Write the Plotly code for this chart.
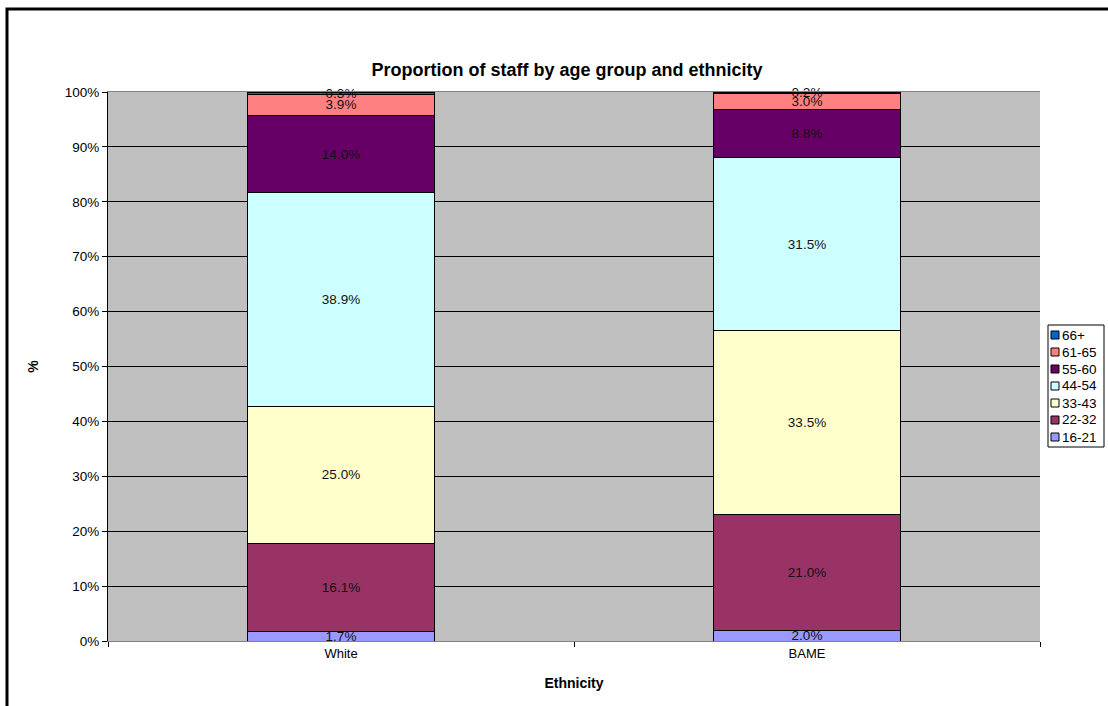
import plotly.graph_objects as go

# Staff proportions by ethnicity and age group (%)
ethnicity = ["White", "BAME"]
age_groups = ["16-21", "22-32", "33-43", "44-54", "55-60", "61-65", "66+"]
white_pct = [1.7, 16.1, 25.0, 38.9, 14.0, 3.9, 0.3]
bame_pct = [2.0, 21.0, 33.5, 31.5, 8.8, 3.0, 0.2]
age_colors = ["#9999FF", "#993366", "#FFFFCC", "#CCFFFF", "#660066", "#FF8080", "#0066CC"]
y_ticks = list(range(0, 101, 10))

FONT = "Liberation Sans, Arial, sans-serif"
W, H = 1108, 706
ML, MR, MT, MB = 108, 68, 92, 65
PW, PH = W - ML - MR, H - MT - MB


def px(x):
    """Horizontal pixel position -> paper coordinate."""
    return (x - ML) / PW


def py(y):
    """Vertical pixel position (from top) -> paper coordinate."""
    return (H - MB - y) / PH


fig = go.Figure()
for i, grp in enumerate(age_groups):
    vals = [white_pct[i], bame_pct[i]]
    fig.add_trace(go.Bar(
        x=ethnicity,
        y=vals,
        name=grp,
        marker=dict(color=age_colors[i], line=dict(color="black", width=1)),
        text=[f"{v:.1f}%" for v in vals],
        textposition="inside",
        insidetextanchor="middle",
        textangle=0,
        constraintext="none",
        cliponaxis=False,
        textfont=dict(family=FONT, size=13.5, color="#111111"),
        showlegend=False,
    ))

shapes = [
    # outer chart frame
    dict(type="rect", xref="paper", yref="paper",
         x0=px(7), x1=px(1130), y0=py(730), y1=py(9),
         line=dict(color="black", width=3), fillcolor="rgba(0,0,0,0)"),
    # legend box
    dict(type="rect", xref="paper", yref="paper",
         x0=px(1048), x1=px(1104), y0=py(447), y1=py(325),
         line=dict(color="black", width=1), fillcolor="white"),
]
annotations = []
# legend entries, top entry is the oldest age group
for k, idx in enumerate(reversed(range(len(age_groups)))):
    cy = 335 + 17 * k
    shapes.append(dict(type="rect", xref="paper", yref="paper",
                       x0=px(1051), x1=px(1059), y0=py(cy + 4), y1=py(cy - 4),
                       line=dict(color="black", width=1), fillcolor=age_colors[idx]))
    annotations.append(dict(xref="paper", yref="paper", x=px(1060), y=py(cy),
                            xanchor="left", yanchor="middle", showarrow=False,
                            text=age_groups[idx],
                            font=dict(family=FONT, size=13.5, color="black")))

fig.update_layout(
    width=W, height=H,
    margin=dict(l=ML, r=MR, t=MT, b=MB, autoexpand=False),
    barmode="stack",
    bargap=0.6,
    paper_bgcolor="white",
    plot_bgcolor="#C0C0C0",
    font=dict(family=FONT, size=13.5, color="black"),
    uniformtext=dict(minsize=13.5, mode="show"),
    showlegend=False,
    title=dict(text="<b>Proportion of staff by age group and ethnicity</b>",
               x=567 / W, xref="container", xanchor="center",
               y=1 - 70 / H, yref="container", yanchor="middle",
               font=dict(family=FONT, size=18, color="black")),
    shapes=shapes,
    annotations=annotations,
    xaxis=dict(
        title=dict(text="<b>Ethnicity</b>", font=dict(family=FONT, size=14), standoff=18),
        tickson="boundaries", ticks="outside", ticklen=5, tickcolor="black",
        showline=True, linecolor="#808080", linewidth=1, mirror=True,
        tickfont=dict(family=FONT, size=13),
    ),
    yaxis=dict(
        title=dict(text="<b>%</b>", font=dict(family=FONT, size=14), standoff=22),
        range=[0, 100], tickvals=y_ticks, ticktext=[f"{t}%" for t in y_ticks],
        ticks="outside", ticklen=5, tickcolor="black",
        showgrid=True, gridcolor="black", gridwidth=1,
        showline=True, linecolor="black", linewidth=1, mirror=False,
        zeroline=False,
        tickfont=dict(family=FONT, size=13.5),
    ),
)

fig.write_html("out.html")
